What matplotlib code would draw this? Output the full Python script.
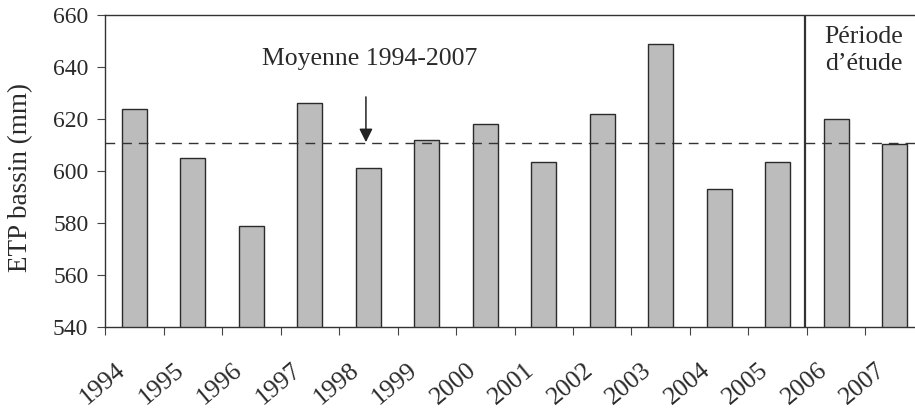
import matplotlib.pyplot as plt
import matplotlib.transforms as mtransforms
import numpy as np

# ETP annuelle du bassin (mm)
annees = ['1994', '1995', '1996', '1997', '1998', '1999', '2000',
          '2001', '2002', '2003', '2004', '2005', '2006', '2007']
etp = [624, 605, 579, 626, 601, 612, 618, 603.5, 622, 649, 593, 603.5, 620, 610.5]
moyenne = 610.6

plt.rcParams['font.family'] = ['Liberation Serif', 'DejaVu Serif']
fs = 18.5
txt = '#2a2a2a'

fig = plt.figure(figsize=(9.15, 4.12), dpi=100)
ax = fig.add_axes([0.1148, 0.2063, 0.895, 0.7573])

x = np.arange(len(annees))
ax.bar(x, etp, width=0.43, color='#bcbcbc', edgecolor='#2b2b2b', linewidth=1.0, zorder=2)
ax.axhline(moyenne, color='#333333', lw=1.0, ls=(0, (7, 5)), zorder=3)

# début de la période d'étude
ax.axvline(11.47, color='#333333', lw=1.6, zorder=3)
ax.text(12.47, 646.5, 'Période\nd’étude', fontsize=fs, ha='center', va='center',
        linespacing=1.3, color=txt)

# moyenne + flèche verticale
ax.text(4.03, 643.2, 'Moyenne 1994-2007', ha='center', va='center', fontsize=fs, color=txt)
ax.annotate('', xy=(3.96, moyenne + 0.5), xytext=(3.96, 628.5),
            arrowprops=dict(arrowstyle='-|>', color='#222222', lw=1.1,
                            mutation_scale=20, shrinkA=0, shrinkB=0))

ax.set_xlim(-0.5, 13.5)
ax.set_ylim(540, 660)
ax.set_yticks(np.arange(540, 661, 20))
ax.set_xticks(x)
ax.set_xticks(np.arange(-0.5, 14, 1), minor=True)
ax.tick_params(axis='x', which='major', length=0, pad=29)
ax.tick_params(axis='x', which='minor', length=6, direction='out', width=0.8, color='#444444')
ax.tick_params(axis='y', length=6, direction='out', width=0.8, color='#444444',
               labelsize=17, labelcolor=txt, pad=6)
ax.set_xticklabels(annees, rotation=40, ha='right', va='center',
                   rotation_mode='anchor', fontsize=fs, color=txt)
# décale les années un peu vers la gauche
shift = mtransforms.ScaledTranslation(-12 / 100, 0, fig.dpi_scale_trans)
for lbl in ax.get_xticklabels():
    lbl.set_transform(lbl.get_transform() + shift)

ax.set_ylabel('ETP bassin (mm)', fontsize=19.5, color=txt)
ax.yaxis.set_label_coords(-0.0876, 0.478)

for s in ['left', 'bottom', 'top']:
    ax.spines[s].set_color('#333333')
    ax.spines[s].set_linewidth(1.0)
ax.spines['right'].set_visible(False)

fig.savefig('out.png', dpi=100)
